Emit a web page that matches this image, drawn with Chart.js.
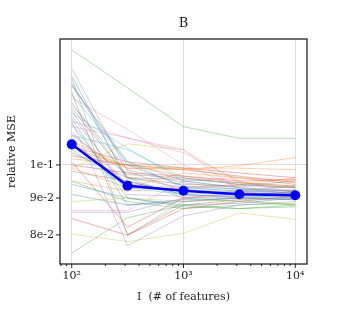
<!DOCTYPE html>
<html>
<head>
<meta charset="utf-8">
<script src="https://cdn.jsdelivr.net/npm/chart.js@4"></script>
<style>
  body { margin: 0; background: #fff; }
  #wrap { width: 341px; height: 331px; }
</style>
</head>
<body>
<div id="wrap"><canvas id="MseChart" width="341" height="331"></canvas></div>
<script>
// number of features
const xValues = [100, 316, 1000, 3162, 10000];

// mean relative MSE over all runs
const meanMse = [0.1068, 0.0936, 0.0921, 0.0911, 0.0908];

// individual runs (one row per run, values at each xValues entry)
const runs = [
  [0.1290, 0.1000, 0.0935, 0.0925, 0.0915],
  [0.1080, 0.0990, 0.0985, 0.0998, 0.1024],
  [0.1444, 0.1279, 0.1130, 0.1089, 0.1089],
  [0.0843, 0.0799, 0.0870, 0.0890, 0.0905],
  [0.1150, 0.0773, 0.0850, 0.0880, 0.0890],
  [0.1200, 0.0960, 0.0940, 0.0935, 0.0950],
  [0.1130, 0.1090, 0.1050, 0.0920, 0.0900],
  [0.1360, 0.0980, 0.0920, 0.0910, 0.0905],
  [0.0802, 0.0783, 0.0804, 0.0858, 0.0841],
  [0.1250, 0.1010, 0.0930, 0.0920, 0.0912],
  [0.1330, 0.0950, 0.0910, 0.0900, 0.0895],
  [0.0990, 0.0930, 0.0975, 0.0960, 0.0950],
  [0.0755, 0.0845, 0.0880, 0.0870, 0.0875],
  [0.1010, 0.0820, 0.0900, 0.0905, 0.0920],
  [0.0860, 0.0860, 0.0900, 0.0915, 0.0925],
  [0.1100, 0.0970, 0.0960, 0.0940, 0.0930],
  [0.0865, 0.0865, 0.0950, 0.0960, 0.0940],
  [0.1320, 0.0800, 0.0890, 0.0900, 0.0910],
  [0.0990, 0.1070, 0.1050, 0.0945, 0.0930],
  [0.1180, 0.1055, 0.0950, 0.0930, 0.0920],
  [0.0940, 0.0900, 0.0880, 0.0885, 0.0900],
  [0.1060, 0.0990, 0.0990, 0.0990, 0.0985],
  [0.1220, 0.0960, 0.0900, 0.0890, 0.0880],
  [0.1000, 0.0975, 0.0965, 0.0950, 0.0955],
  [0.1110, 0.0940, 0.0920, 0.0915, 0.0905],
  [0.0980, 0.0950, 0.0910, 0.0920, 0.0935],
  [0.1240, 0.1120, 0.1000, 0.0930, 0.0910],
  [0.1290, 0.1010, 0.0950, 0.0930, 0.0920],
  [0.0890, 0.0900, 0.0890, 0.0895, 0.0880],
  [0.1050, 0.0930, 0.0910, 0.0905, 0.0900],
  [0.1160, 0.0880, 0.0895, 0.0900, 0.0895],
  [0.0950, 0.0920, 0.0930, 0.0940, 0.0960],
  [0.0950, 0.0890, 0.0870, 0.0880, 0.0885],
  [0.1030, 0.1000, 0.0985, 0.0965, 0.0945],
  [0.1190, 0.0910, 0.0905, 0.0910, 0.0915],
  [0.1260, 0.0800, 0.0880, 0.0895, 0.0900],
  [0.1080, 0.0940, 0.0930, 0.0935, 0.0930],
  [0.1170, 0.0930, 0.0925, 0.0915, 0.0910],
  [0.1050, 0.1000, 0.0990, 0.0960, 0.0940],
  [0.1100, 0.1050, 0.0960, 0.0940, 0.0930],
  [0.0910, 0.0880, 0.0890, 0.0900, 0.0905],
  [0.1020, 0.1000, 0.0965, 0.0945, 0.0935],
  [0.1140, 0.0900, 0.0875, 0.0870, 0.0880],
  [0.1060, 0.1010, 0.0990, 0.0975, 0.0960],
  [0.1210, 0.0985, 0.0945, 0.0925, 0.0920],
  [0.1040, 0.0960, 0.0955, 0.0945, 0.0935],
  [0.1150, 0.1090, 0.1040, 0.0950, 0.0915],
  [0.1300, 0.0960, 0.0930, 0.0920, 0.0915]
];

// axis ticks
const xMajorTicks = [100, 1000, 10000];
const xTickLabels = ["10\u00b2", "10\u00b3", "10\u2074"];
const yTicks = [0.08, 0.09, 0.1];
const yTickLabels = ["8e-2", "9e-2", "1e-1"];

const chartTitle = "B";
const xTitle = "I  (# of features)";
const yTitle = "relative MSE";

const xMin = 78.5, xMax = 12740;
const yMin = 0.0729, yMax = 0.1495;

const palette = ["#1f77b4", "#ff7f0e", "#2ca02c", "#d62728", "#9467bd",
                 "#8c564b", "#e377c2", "#7f7f7f", "#bcbd22", "#17becf"];

function withAlpha(hex, a) {
  const n = parseInt(hex.slice(1), 16);
  return `rgba(${(n >> 16) & 255}, ${(n >> 8) & 255}, ${n & 255}, ${a})`;
}

// minor ticks of the log x axis (1..9 times each decade), kept inside the range
const xMinorTicks = [];
[10, 100, 1000, 10000].forEach(d => {
  for (let k = 1; k < 10; k++) {
    const v = d * k;
    if (v >= xMin && v <= xMax) xMinorTicks.push(v);
  }
});

const toPoints = vals => vals.map((v, i) => ({ x: xValues[i], y: v }));

const datasets = [{
  data: toPoints(meanMse),
  borderColor: "#0000ff",
  backgroundColor: "#0000ff",
  borderWidth: 2.5,
  pointRadius: 5,
  pointBorderWidth: 0,
  tension: 0
}];
runs.forEach((r, i) => {
  datasets.push({
    data: toPoints(r),
    borderColor: withAlpha(palette[i % 10], 0.45),
    borderWidth: 0.8,
    pointRadius: 0,
    tension: 0
  });
});

const FONT = '"DejaVu Serif", serif';

const framePlugin = {
  id: "frame",
  afterDraw(chart) {
    const { ctx, chartArea: a, scales } = chart;
    ctx.save();
    ctx.strokeStyle = "#222";
    ctx.lineWidth = 1;
    // x ticks (major longer than minor)
    scales.x.ticks.forEach(t => {
      const px = scales.x.getPixelForValue(t.value);
      const len = xMajorTicks.includes(t.value) ? 4 : 2;
      ctx.beginPath();
      ctx.moveTo(px, a.bottom);
      ctx.lineTo(px, a.bottom + len);
      ctx.stroke();
    });
    scales.y.ticks.forEach(t => {
      const py = scales.y.getPixelForValue(t.value);
      ctx.beginPath();
      ctx.moveTo(a.left, py);
      ctx.lineTo(a.left - 4, py);
      ctx.stroke();
    });
    ctx.lineWidth = 1.3;
    ctx.strokeRect(a.left, a.top, a.right - a.left, a.bottom - a.top);
    ctx.fillStyle = "#222";
    ctx.font = "13px " + FONT;
    ctx.textAlign = "center";
    ctx.textBaseline = "middle";
    ctx.fillText(chartTitle, (a.left + a.right) / 2, 24);
    ctx.restore();
  }
};

new Chart(document.getElementById("MseChart").getContext("2d"), {
  type: "line",
  data: { datasets },
  plugins: [framePlugin],
  options: {
    responsive: false,
    animation: false,
    layout: { padding: { top: 39, right: 34, left: 0, bottom: 0 } },
    plugins: { legend: { display: false }, tooltip: { enabled: false } },
    scales: {
      x: {
        type: "logarithmic",
        min: xMin,
        max: xMax,
        afterBuildTicks: s => { s.ticks = xMinorTicks.map(v => ({ value: v })); },
        afterFit: s => { s.height = 67; s.paddingLeft = 0; s.paddingRight = 0; },
        border: { display: false },
        grid: {
          color: c => xMajorTicks.includes(c.tick && c.tick.value) ? "#dddddd" : "rgba(0,0,0,0)",
          lineWidth: 1,
          tickColor: "rgba(0,0,0,0)",
          tickLength: 4
        },
        ticks: {
          autoSkip: false,
          maxRotation: 0,
          padding: 2,
          color: "#222",
          font: { family: FONT, size: 11 },
          callback: v => {
            const i = xMajorTicks.indexOf(v);
            return i >= 0 ? xTickLabels[i] : "";
          }
        },
        title: {
          display: true,
          text: xTitle,
          color: "#222",
          font: { family: FONT, size: 11 },
          padding: { top: 0, bottom: 27 }
        }
      },
      y: {
        type: "logarithmic",
        min: yMin,
        max: yMax,
        afterBuildTicks: s => { s.ticks = yTicks.map(v => ({ value: v })); },
        afterFit: s => { s.width = 60; s.paddingTop = 0; s.paddingBottom = 0; },
        border: { display: false },
        grid: {
          color: c => (c.tick && c.tick.value === 0.1) ? "#dddddd" : "rgba(0,0,0,0)",
          tickColor: "rgba(0,0,0,0)",
          tickLength: 4
        },
        ticks: {
          autoSkip: false,
          padding: 2,
          color: "#222",
          font: { family: FONT, size: 11 },
          callback: v => {
            const i = yTicks.indexOf(v);
            return i >= 0 ? yTickLabels[i] : "";
          }
        },
        title: {
          display: true,
          text: yTitle,
          color: "#222",
          font: { family: FONT, size: 11 },
          padding: { top: 6, bottom: 0 }
        }
      }
    }
  }
});
</script>
</body>
</html>
